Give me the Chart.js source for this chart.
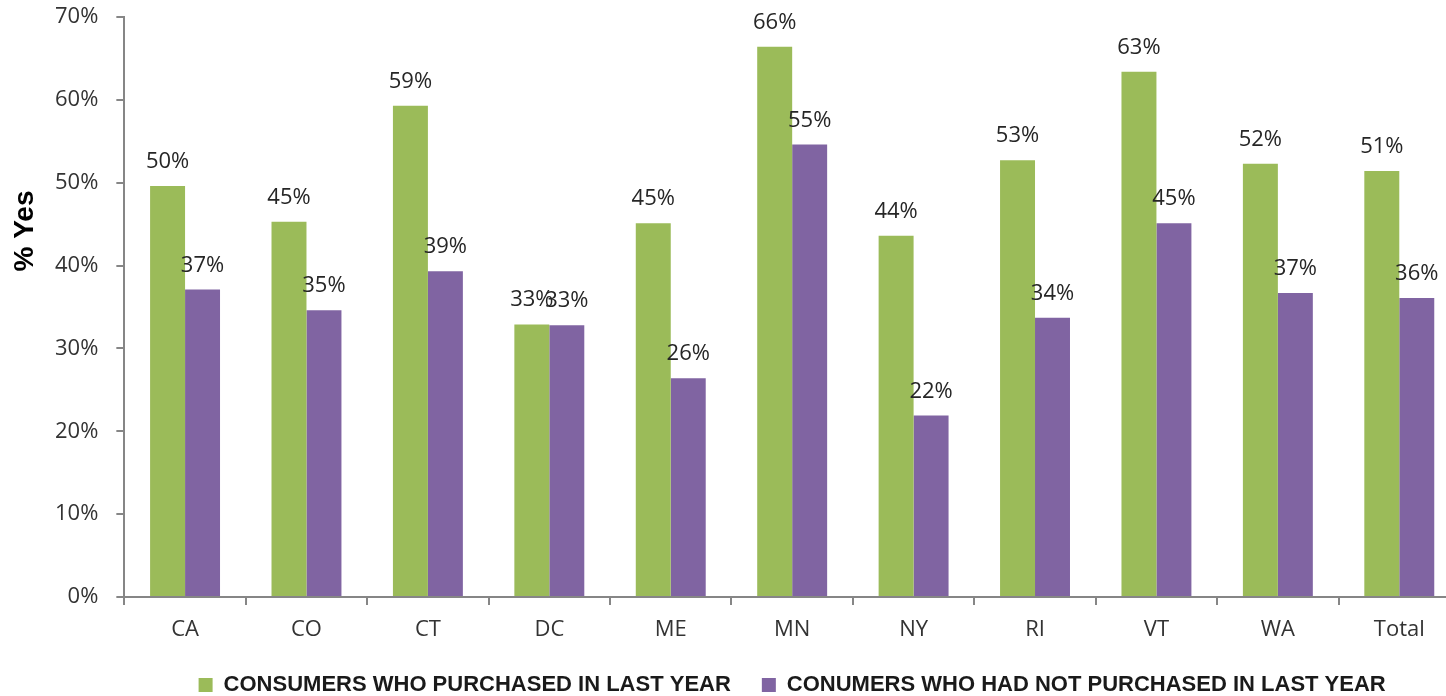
<!DOCTYPE html>
<html>
<head>
<meta charset="utf-8">
<title>% Yes by state</title>
<script src="https://cdn.jsdelivr.net/npm/chart.js@4.4.0/dist/chart.umd.min.js"></script>
<style>
  html, body { margin: 0; padding: 0; background: #fff; overflow: hidden; }
  #wrap { width: 1460px; height: 696px; position: relative; }
</style>
</head>
<body>
<div id="wrap"><canvas id="chart"></canvas></div>
<script>
// Chart data
const categories = ['CA', 'CO', 'CT', 'DC', 'ME', 'MN', 'NY', 'RI', 'VT', 'WA', 'Total'];
const purchasedValues = [49.6, 45.3, 59.3, 32.9, 45.1, 66.4, 43.6, 52.7, 63.4, 52.3, 51.4];
const notPurchasedValues = [37.1, 34.6, 39.3, 32.8, 26.4, 54.6, 21.9, 33.7, 45.1, 36.7, 36.1];
const yTicks = [0, 10, 20, 30, 40, 50, 60, 70];
const seriesNames = ['CONSUMERS WHO PURCHASED IN LAST YEAR', 'CONUMERS WHO HAD NOT PURCHASED IN LAST YEAR'];
const axisTitle = '% Yes';

const AXIS_GREY = '#868686';

/**
 * Value labels above each bar
 */
const barValueLabels = {
  id: 'barValueLabels',
  afterDatasetsDraw(chart) {
    const ctx = chart.ctx;
    ctx.save();
    ctx.font = '22px "Open Sans"';
    ctx.fillStyle = '#262626';
    ctx.textAlign = 'center';
    ctx.textBaseline = 'alphabetic';
    chart.data.datasets.forEach((ds, i) => {
      chart.getDatasetMeta(i).data.forEach((bar, j) => {
        ctx.fillText(Math.round(ds.data[j]) + '%', bar.x, bar.y - 18);
      });
    });
    ctx.restore();
  },
};

/**
 * Rotated y axis title, sits above the middle like the original
 */
const yAxisTitle = {
  id: 'yAxisTitle',
  afterDraw(chart) {
    const ctx = chart.ctx;
    ctx.save();
    ctx.translate(25, 231);
    ctx.rotate(-Math.PI / 2);
    ctx.font = 'bold 28px "Liberation Sans"';
    ctx.fillStyle = '#000';
    ctx.textAlign = 'center';
    ctx.textBaseline = 'middle';
    ctx.fillText(axisTitle, 0, 0);
    ctx.restore();
  },
};

const ctx = document.getElementById('chart').getContext('2d');
new Chart(ctx, {
  type: 'bar',
  data: {
    labels: categories,
    datasets: [
      {
        label: seriesNames[0],
        data: purchasedValues,
        backgroundColor: '#9BBB59',
        borderWidth: 0,
      },
      {
        label: seriesNames[1],
        data: notPurchasedValues,
        backgroundColor: '#8064A2',
        borderWidth: 0,
      },
    ],
  },
  options: {
    responsive: true,
    maintainAspectRatio: false,
    animation: false,
    categoryPercentage: 0.576,
    barPercentage: 1,
    layout: {
      padding: { top: 17, left: 37, right: 0, bottom: 0 },
    },
    scales: {
      x: {
        // fit() counts the tick padding twice, trim the box back to tick + padding + label
        afterFit: axis => {
          axis.height = 46;
        },
        grid: {
          drawOnChartArea: false,
          drawTicks: true,
          tickLength: 8,
          color: AXIS_GREY,
          lineWidth: 2,
        },
        border: { color: AXIS_GREY, width: 2 },
        ticks: {
          color: '#333',
          padding: 12,
          font: { family: '"Open Sans"', size: 22 },
        },
      },
      y: {
        min: 0,
        max: 70,
        afterBuildTicks: axis => {
          axis.ticks = yTicks.map(v => ({ value: v }));
        },
        // top label may hang into the layout padding
        afterFit: axis => {
          axis.paddingTop = 0;
        },
        grid: {
          drawOnChartArea: false,
          drawTicks: true,
          tickLength: 8,
          color: AXIS_GREY,
          lineWidth: 2,
        },
        border: { color: AXIS_GREY, width: 2 },
        ticks: {
          color: '#333',
          padding: 18,
          font: { family: '"Open Sans"', size: 22 },
          callback: v => v + '%',
        },
      },
    },
    plugins: {
      legend: {
        position: 'bottom',
        fullSize: false,
        maxHeight: 53,
        labels: {
          boxWidth: 14,
          boxHeight: 14,
          padding: 31,
          color: '#1a1a1a',
          font: { family: '"Liberation Sans"', size: 22, weight: 'bold' },
        },
      },
      tooltip: { enabled: false },
    },
  },
  plugins: [barValueLabels, yAxisTitle],
});
</script>
</body>
</html>
